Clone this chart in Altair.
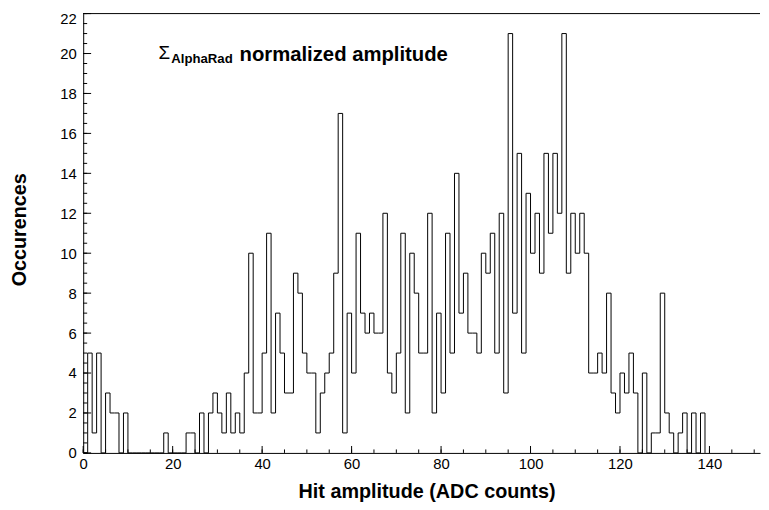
import altair as alt
import pandas as pd

# Histogram contents: one bin per ADC count, bins [i, i+1) for i = 0..138
counts = [0, 5, 1, 5, 0, 3, 2, 2, 0, 2,
          0, 0, 0, 0, 0, 0, 0, 0, 1, 0,
          0, 0, 0, 1, 1, 0, 2, 0, 2, 3,
          2, 1, 3, 1, 2, 1, 4, 10, 2, 2,
          5, 11, 2, 7, 5, 3, 3, 9, 8, 5,
          4, 4, 1, 3, 4, 5, 9, 17, 1, 7,
          4, 11, 7, 6, 7, 6, 6, 12, 4, 3,
          5, 11, 2, 10, 8, 5, 5, 12, 2, 7,
          3, 11, 5, 14, 7, 9, 6, 6, 5, 10,
          9, 11, 5, 12, 3, 21, 7, 15, 5, 13,
          10, 12, 9, 15, 11, 15, 12, 21, 9, 12,
          10, 12, 10, 4, 4, 5, 4, 8, 3, 2,
          4, 3, 5, 3, 0, 4, 0, 1, 1, 8,
          2, 1, 0, 1, 2, 0, 2, 0, 2]

x_labels = [0, 20, 40, 60, 80, 100, 120, 140]
x_minor = [0, 5, 10, 15, 20, 25, 30, 35, 40, 45, 50, 55, 60, 65, 70, 75,
           80, 85, 90, 95, 100, 105, 110, 115, 120, 125, 130, 135, 140, 145, 150]
y_labels = [0, 2, 4, 6, 8, 10, 12, 14, 16, 18, 20, 22]
y_minor = [i * 0.5 for i in range(45)]

x_max = 151.3
y_max = 22
W, H = 684, 444
FONT = "Liberation Sans"

# step outline: left edge of each bin, plus closing point at the last right edge
hist = pd.DataFrame({
    "edge": list(range(len(counts))) + [len(counts)],
    "count": counts + [0],
})

xs = alt.Scale(domain=[0, x_max], nice=False, zero=False)
ys = alt.Scale(domain=[0, y_max], nice=False)

x_axis = alt.Axis(values=x_labels, ticks=False, grid=False, labelFontSize=15,
                  labelFont=FONT, labelColor="black", labelPadding=4,
                  labelFlush=False, domainColor="black", domainWidth=1,
                  title="Hit amplitude (ADC counts)", titleFont=FONT,
                  titleFontSize=20, titleFontWeight="bold", titleColor="black",
                  titleX=347, titleY=45, titleAlign="center",
                  titleBaseline="alphabetic")
y_axis = alt.Axis(values=y_labels, ticks=False, grid=False, labelFontSize=15,
                  labelFont=FONT, labelColor="black", labelPadding=7,
                  labelOffset={"condition": {"test": "datum.value == 22", "value": 5},
                               "value": 0},
                  labelFlush=False, domainColor="black", domainWidth=1,
                  title="Occurences", titleFont=FONT, titleFontSize=20,
                  titleFontWeight="bold", titleColor="black", titleAngle=270,
                  titleX=-58, titleY=218, titleAlign="center",
                  titleBaseline="alphabetic")

line = alt.Chart(hist).mark_line(interpolate="step-after", color="black",
                                 strokeWidth=1).encode(
    x=alt.X("edge:Q", scale=xs, axis=x_axis),
    y=alt.Y("count:Q", scale=ys, axis=y_axis),
)

top = alt.Chart(pd.DataFrame({"v": [y_max]})).mark_rule(
    color="black", strokeWidth=1).encode(y=alt.Y("v:Q", scale=ys, axis=y_axis))

ymaj = alt.Chart(pd.DataFrame({"v": y_labels})).mark_rule(
    color="black", strokeWidth=1).encode(
    y=alt.Y("v:Q", scale=ys, axis=y_axis), x=alt.value(0), x2=alt.value(8))
ymin = alt.Chart(pd.DataFrame({"v": y_minor})).mark_rule(
    color="black", strokeWidth=1).encode(
    y=alt.Y("v:Q", scale=ys, axis=y_axis), x=alt.value(0), x2=alt.value(4))
xmaj = alt.Chart(pd.DataFrame({"v": x_labels})).mark_rule(
    color="black", strokeWidth=1).encode(
    x=alt.X("v:Q", scale=xs, axis=x_axis), y=alt.value(H), y2=alt.value(H - 7))
xmin = alt.Chart(pd.DataFrame({"v": x_minor})).mark_rule(
    color="black", strokeWidth=1).encode(
    x=alt.X("v:Q", scale=xs, axis=x_axis), y=alt.value(H), y2=alt.value(H - 3.5))

sigma = alt.Chart(pd.DataFrame({"t": ["\u03a3"]})).mark_text(
    font=FONT, fontSize=19, align="left", baseline="alphabetic", color="black"
).encode(text="t:N", x=alt.value(76), y=alt.value(46))
sub = alt.Chart(pd.DataFrame({"t": ["AlphaRad"]})).mark_text(
    font=FONT, fontSize=13.3, fontWeight="bold", align="left",
    baseline="alphabetic", color="black"
).encode(text="t:N", x=alt.value(89), y=alt.value(50))
main = alt.Chart(pd.DataFrame({"t": ["normalized amplitude"]})).mark_text(
    font=FONT, fontSize=20.5, fontWeight="bold", align="left",
    baseline="alphabetic", color="black"
).encode(text="t:N", x=alt.value(158), y=alt.value(47.5))

chart = alt.layer(line, top, ymaj, ymin, xmaj, xmin, sigma, sub, main).properties(
    width=W, height=H,
    autosize=alt.AutoSizeParams(type="none"),
    padding={"left": 76, "top": 3, "right": 1, "bottom": 50},
    background="white",
).configure_view(stroke=None)

chart.save("out.html", embed_options={"renderer": "svg", "actions": False})
